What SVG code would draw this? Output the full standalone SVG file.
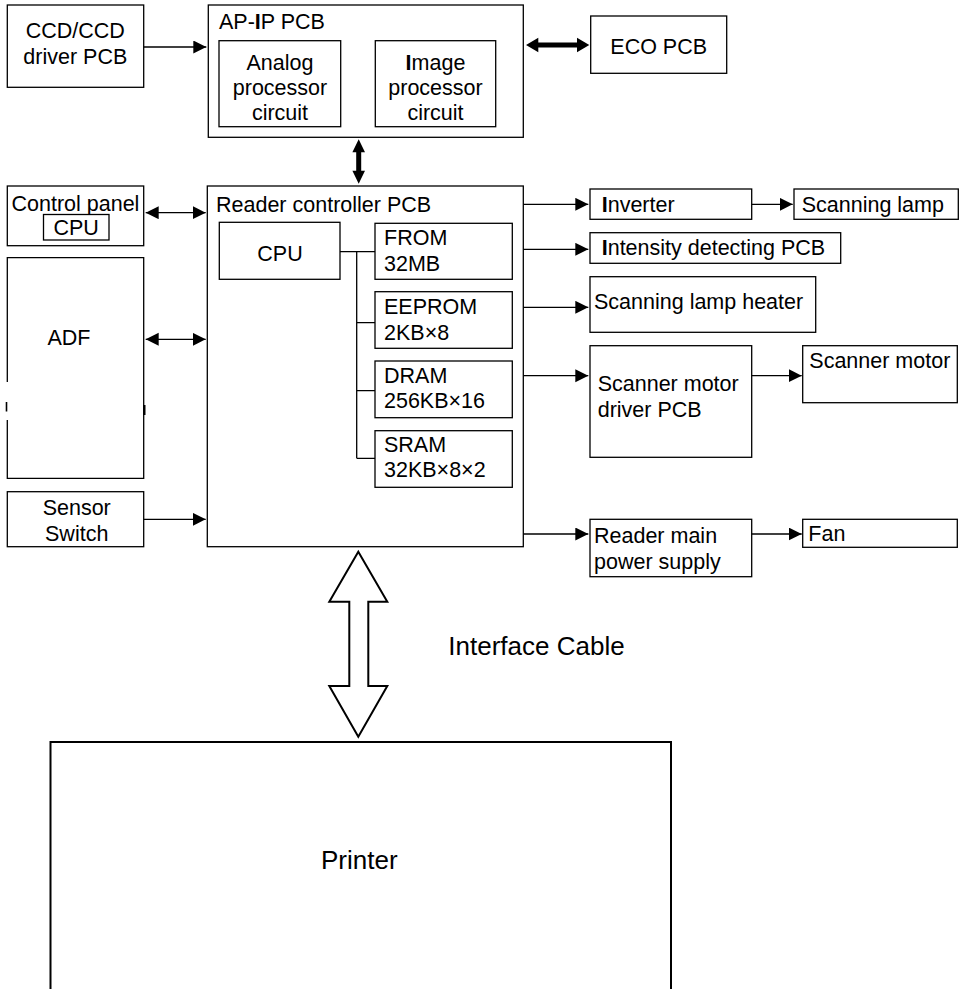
<svg xmlns="http://www.w3.org/2000/svg" width="962" height="989" viewBox="0 0 962 989">
<defs>
<style>
.box{fill:#fff;stroke:#000;stroke-width:1.3}
.t{font-family:"Liberation Sans",Arial,sans-serif;font-size:21.5px;fill:#000}
.m{text-anchor:middle}
.big{font-size:26px}
.ln{stroke:#000;stroke-width:1.3;fill:none}
.one{marker-end:url(#ah)}
.two{marker-start:url(#ah);marker-end:url(#ah)}
.b{font-weight:bold}
</style>
<marker id="ah" markerUnits="userSpaceOnUse" markerWidth="14" markerHeight="14" refX="13" refY="6.5" orient="auto-start-reverse">
<path d="M0,0 L13,6.5 L0,13 Z" fill="#000"/>
</marker>
</defs>
<rect width="962" height="989" fill="#fff"/>

<g id="ccd">
<rect class="box" x="7.3" y="5" width="136.4" height="82.3"/>
<text class="t m" x="75.3" y="37.5">CCD/CCD</text>
<text class="t m" x="75.3" y="64">driver PCB</text>
</g>

<g id="apip">
<rect class="box" x="208.3" y="5" width="315" height="132.3"/>
<text class="t" x="219" y="29">AP-<tspan class="b">I</tspan>P PCB</text>
</g>
<g id="analog">
<rect class="box" x="219" y="40.7" width="121.7" height="86"/>
<text class="t m" x="280" y="70">Analog</text>
<text class="t m" x="280" y="94.5">processor</text>
<text class="t m" x="280" y="119.5">circuit</text>
</g>
<g id="image">
<rect class="box" x="375.3" y="40.7" width="120.4" height="86"/>
<text class="t m" x="435.5" y="70"><tspan class="b">I</tspan>mage</text>
<text class="t m" x="435.5" y="94.5">processor</text>
<text class="t m" x="435.5" y="119.5">circuit</text>
</g>

<g id="eco">
<rect class="box" x="590.7" y="16" width="136" height="57.3"/>
<text class="t m" x="658.7" y="54">ECO PCB</text>
</g>

<g id="control-panel">
<rect class="box" x="7.3" y="186" width="136.4" height="59.7"/>
<text class="t" x="11.5" y="210.5">Control panel</text>
<rect class="box" x="43.5" y="214.5" width="65.5" height="25.5"/>
<text class="t m" x="76.2" y="235">CPU</text>
</g>

<g id="adf">
<path class="ln" d="M7.3,382 V257.7 H143.7 V478.3 H7.3 V420"/>
<line x1="6.5" y1="402" x2="6.5" y2="411.5" stroke="#000" stroke-width="1.6"/>
<rect x="143" y="405" width="2.5" height="10" fill="#000"/>
<text class="t m" x="69" y="345">ADF</text>
</g>

<g id="sensor">
<rect class="box" x="7.3" y="491.7" width="136.4" height="55"/>
<text class="t m" x="76.7" y="515">Sensor</text>
<text class="t m" x="76.7" y="541">Switch</text>
</g>

<g id="reader">
<rect class="box" x="207.3" y="186" width="316" height="360.7"/>
<text class="t" x="216" y="212">Reader controller PCB</text>
</g>
<g id="cpu">
<rect class="box" x="219.3" y="222.3" width="120.7" height="57"/>
<text class="t m" x="280" y="261">CPU</text>
</g>
<g id="from">
<rect class="box" x="375" y="223.3" width="137.3" height="56"/>
<text class="t" x="384" y="245">FROM</text>
<text class="t" x="384" y="270.7">32MB</text>
</g>
<g id="eeprom">
<rect class="box" x="375" y="291.7" width="137.3" height="56.6"/>
<text class="t" x="384" y="314.3">EEPROM</text>
<text class="t" x="384" y="340">2KB×8</text>
</g>
<g id="dram">
<rect class="box" x="375" y="361" width="137.3" height="56.7"/>
<text class="t" x="384" y="382.7">DRAM</text>
<text class="t" x="384" y="408.3">256KB×16</text>
</g>
<g id="sram">
<rect class="box" x="375" y="430.7" width="137.3" height="56.6"/>
<text class="t" x="384" y="451.7">SRAM</text>
<text class="t" x="384" y="477.3">32KB×8×2</text>
</g>

<g id="inverter">
<rect class="box" x="590" y="189" width="161.7" height="30.3"/>
<text class="t" x="601.7" y="212"><tspan class="b">I</tspan>nverter</text>
</g>
<g id="scanning-lamp">
<rect class="box" x="794" y="189" width="164.3" height="30.3"/>
<text class="t" x="801.7" y="212">Scanning lamp</text>
</g>
<g id="intensity">
<rect class="box" x="590" y="232.7" width="250.7" height="30.6"/>
<text class="t" x="601.7" y="255"><tspan class="b">I</tspan>ntensity detecting PCB</text>
</g>
<g id="heater">
<rect class="box" x="590" y="276.7" width="225.7" height="55.6"/>
<text class="t" x="594" y="309">Scanning lamp heater</text>
</g>
<g id="motor-driver">
<rect class="box" x="590" y="345.7" width="161.7" height="111.6"/>
<text class="t" x="597.7" y="391">Scanner motor</text>
<text class="t" x="597.7" y="416.7">driver PCB</text>
</g>
<g id="scanner-motor">
<rect class="box" x="802.7" y="345.7" width="154.6" height="57"/>
<text class="t" x="809.3" y="368.3">Scanner motor</text>
</g>
<g id="power">
<rect class="box" x="590" y="519.3" width="161.7" height="57.4"/>
<text class="t" x="594" y="542.7">Reader main</text>
<text class="t" x="594" y="569.3">power supply</text>
</g>
<g id="fan">
<rect class="box" x="802.7" y="519.3" width="154.6" height="28"/>
<text class="t" x="808.3" y="541">Fan</text>
</g>

<g id="printer">
<rect x="50.5" y="742" width="620.5" height="270" fill="#fff" stroke="#000" stroke-width="2"/>
<text class="t big m" x="359.3" y="869.3">Printer</text>
</g>

<g id="connectors">
<line class="ln one" x1="143.7" y1="47" x2="206.3" y2="47"/>
<polygon points="526,45 538.3,37.8 538.3,42.5 577,42.5 577,37.8 589.3,45 577,52.2 577,47.5 538.3,47.5 538.3,52.2" fill="#000"/>
<polygon points="358.7,139.3 365,152.3 361.2,152.3 361.2,170.7 365,170.7 358.7,183.7 352.4,170.7 356.2,170.7 356.2,152.3 352.4,152.3" fill="#000"/>
<line class="ln two" x1="145.7" y1="212.7" x2="205.7" y2="212.7"/>
<line class="ln two" x1="145.7" y1="339.3" x2="205.7" y2="339.3"/>
<line class="ln one" x1="143.7" y1="519.3" x2="205.7" y2="519.3"/>
<path class="ln" d="M340,251.7 H375 M356.7,251.7 V458.3 M356.7,322.7 H375 M356.7,390.7 H375 M356.7,458.3 H375"/>
<line class="ln one" x1="523.3" y1="204.3" x2="588.3" y2="204.3"/>
<line class="ln one" x1="751.7" y1="204.3" x2="792.7" y2="204.3"/>
<line class="ln one" x1="523.3" y1="249.3" x2="588.3" y2="249.3"/>
<line class="ln one" x1="523.3" y1="307.3" x2="588.3" y2="307.3"/>
<line class="ln one" x1="523.3" y1="375.7" x2="588.3" y2="375.7"/>
<line class="ln one" x1="751.7" y1="375.7" x2="801.7" y2="375.7"/>
<line class="ln one" x1="523.3" y1="534" x2="588.3" y2="534"/>
<line class="ln one" x1="751.7" y1="534" x2="801.7" y2="534"/>
<polygon points="358.3,551.7 387.3,601.7 368.3,601.7 368.3,686 387.3,686 358.3,736.7 329.3,686 349.3,686 349.3,601.7 329.3,601.7" fill="#fff" stroke="#000" stroke-width="2"/>
</g>
<text class="t big" x="448.3" y="655">Interface Cable</text>
</svg>
